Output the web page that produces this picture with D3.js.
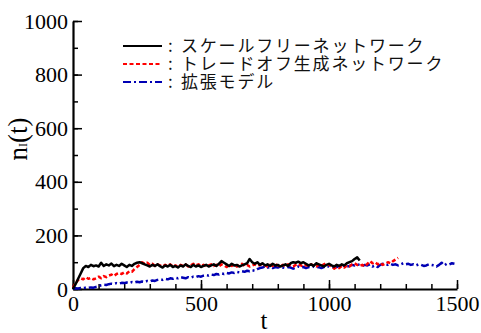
<html>
<head>
	<meta charset="UTF-8">
	<script src="https://cdn.jsdelivr.net/npm/d3@7"></script>
</head>
<body style="margin:0">
	<script>
		// time grid is every 10 steps
		var step = 10;

		var scaleFree = [0, 18, 38, 58, 78, 86, 82, 90, 85, 88, 84, 98, 86, 92, 88, 95, 85, 90, 86, 94,
			88, 82, 90, 86, 94, 98, 100, 96, 92, 88, 84, 90, 86, 92, 85, 80, 88, 84, 90, 82,
			86, 80, 88, 84, 92, 86, 82, 90, 84, 88, 82, 86, 90, 84, 88, 92, 86, 94, 104, 98,
			92, 86, 94, 88, 90, 84, 88, 92, 96, 112, 100, 94, 100, 90, 96, 88, 92, 86, 94, 88,
			90, 84, 88, 92, 86, 96, 100, 98, 102, 96, 100, 94, 88, 92, 86, 96, 92, 88, 84, 90,
			94, 88, 84, 90, 86, 92, 88, 96, 100, 104, 112, 118, 106];

		var tradeOff = [5, 22, 34, 40, 36, 44, 38, 42, 36, 40, 46, 40, 48, 44, 50, 54, 48, 56, 60, 56,
			62, 58, 66, 64, 74, 82, 90, 100, 94, 98, 90, 94, 86, 92, 88, 84, 90, 86, 92, 84,
			88, 82, 90, 86, 92, 84, 88, 94, 88, 92, 86, 90, 84, 88, 92, 86, 90, 84, 92, 88,
			82, 90, 86, 92, 84, 88, 94, 86, 90, 84, 88, 92, 86, 90, 94, 88, 84, 90, 86, 92,
			88, 84, 90, 86, 92, 88, 84, 90, 94, 88, 84, 90, 86, 92, 88, 84, 90, 86, 92, 96,
			90, 84, 76, 82, 78, 86, 80, 88, 84, 92, 96, 90, 86, 90, 84, 94, 104, 96, 100, 92,
			98, 90, 94, 100, 96, 104, 110, 116];

		var extended = [2, 3, 2, 4, 3, 5, 4, 6, 5, 8, 10, 14, 16, 15, 18, 20, 19, 22, 20, 23,
			22, 24, 22, 26, 24, 27, 25, 28, 26, 30, 28, 32, 30, 34, 36, 34, 38, 36, 40, 38,
			42, 40, 44, 42, 40, 44, 42, 46, 44, 48, 46, 50, 52, 50, 54, 52, 56, 54, 58, 56,
			60, 58, 62, 60, 64, 62, 66, 64, 68, 66, 70, 68, 74, 78, 80, 84, 80, 82, 78, 82,
			80, 84, 80, 78, 82, 80, 76, 80, 84, 80, 82, 78, 82, 80, 84, 80, 82, 78, 82, 86,
			84, 80, 84, 82, 86, 84, 88, 84, 86, 90, 88, 92, 90, 86, 90, 88, 92, 84, 88, 82,
			90, 94, 92, 90, 94, 90, 92, 88, 92, 96, 92, 94, 90, 92, 88, 92, 90, 86, 88, 92,
			90, 88, 84, 90, 98, 88, 94, 92, 96, 94];

		var seriesNames = ["スケールフリーネットワーク", "トレードオフ生成ネットワーク", "拡張モデル"];
		var seriesColors = ["#000000", "#ff0000", "#0000b4"];
		var seriesDash = [null, "4,2.5", "8,3,2,3"];
		var yTicks = [0, 200, 400, 600, 800, 1000];
		var xTicks = [0, 500, 1000, 1500];

		var w = 481, h = 333;

		var svg = d3.select("body").append("svg")
			.attr("width", w)
			.attr("height", h);

		var x = d3.scaleLinear().domain([0, 1500]).range([73, 457]);
		var y = d3.scaleLinear().domain([0, 1000]).range([289, 21]);

		// minor ticks first so the main axis sits on top
		svg.append("g")
			.attr("transform", "translate(0,289)")
			.call(d3.axisBottom(x).tickValues(d3.range(0, 1501, 100)).tickSize(-5).tickFormat(""))
			.call(function (g) { g.select(".domain").remove(); });
		svg.append("g")
			.attr("transform", "translate(73,0)")
			.call(d3.axisLeft(y).tickValues(d3.range(0, 1001, 100)).tickSize(-5).tickFormat(""))
			.call(function (g) { g.select(".domain").remove(); });

		var xAxis = svg.append("g")
			.attr("transform", "translate(0,289)")
			.call(d3.axisBottom(x).tickValues(xTicks).tickFormat(d3.format("d"))
				.tickSizeInner(-9).tickSizeOuter(0).tickPadding(4));
		var yAxis = svg.append("g")
			.attr("transform", "translate(73,0)")
			.call(d3.axisLeft(y).tickValues(yTicks).tickFormat(d3.format("d"))
				.tickSizeInner(-9).tickSizeOuter(0).tickPadding(5));

		svg.selectAll(".tick line").attr("stroke", "#000").attr("stroke-width", 1.5);
		svg.selectAll(".domain").attr("stroke", "#000").attr("stroke-width", 2.2);
		svg.selectAll(".tick text")
			.attr("font-family", "Liberation Serif")
			.attr("font-size", 22)
			.attr("fill", "#000");
		xAxis.selectAll(".tick text").attr("dy", "0.72em").attr("y", 6);

		var line = d3.line()
			.x(function (d, i) { return x(i * step); })
			.y(function (d) { return y(d); });

		var allSeries = [scaleFree, tradeOff, extended];
		// draw blue first, black last
		[2, 1, 0].forEach(function (k) {
			svg.append("path")
				.datum(allSeries[k])
				.attr("d", line)
				.attr("fill", "none")
				.attr("stroke", seriesColors[k])
				.attr("stroke-width", 2.5)
				.attr("stroke-linejoin", "round")
				.attr("stroke-dasharray", seriesDash[k]);
		});

		// axis titles
		svg.append("text")
			.attr("x", 264)
			.attr("y", 329)
			.attr("text-anchor", "middle")
			.attr("font-family", "Liberation Serif")
			.attr("font-size", 25)
			.text("t");

		var yl = svg.append("text")
			.attr("transform", "translate(27,139) rotate(-90)")
			.attr("text-anchor", "middle")
			.attr("font-family", "Liberation Serif")
			.attr("font-size", 27);
		yl.append("tspan").text("n");
		yl.append("tspan").attr("font-size", 12).text("I");
		yl.append("tspan").text("(t)");

		// legend
		var legend = svg.append("g");
		seriesNames.forEach(function (name, k) {
			var ly = 46 + k * 18;
			legend.append("line")
				.attr("x1", 123).attr("x2", 162)
				.attr("y1", ly).attr("y2", ly)
				.attr("stroke", seriesColors[k])
				.attr("stroke-width", 2)
				.attr("stroke-dasharray", seriesDash[k]);
			var t = legend.append("text")
				.attr("y", ly + 6)
				.attr("font-family", "Noto Sans CJK JP")
				.attr("font-size", 17)
				.attr("letter-spacing", 1.8)
				.attr("fill", "#111");
			t.append("tspan").attr("x", 168).text(":");
			t.append("tspan").attr("x", 181).text(name);
		});
	</script>
</body>
</html>
